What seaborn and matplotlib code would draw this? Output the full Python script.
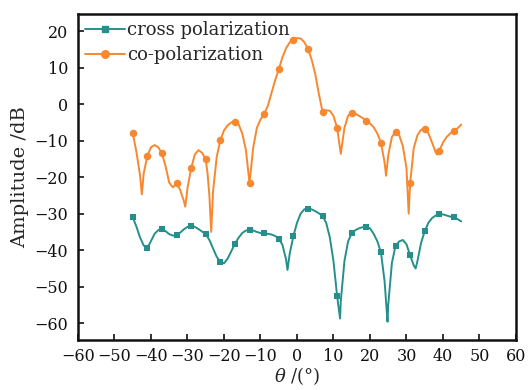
import numpy as np
import pandas as pd
import matplotlib
matplotlib.use("Agg")
import matplotlib.pyplot as plt
from matplotlib.lines import Line2D
import seaborn as sns

# Co-polarization pattern (deg, dB)
co_theta = [-45, -44, -43, -42.5, -42, -41, -40, -39, -38, -37, -36, -35, -34, -33,
            -32, -31, -30.6, -30, -29, -28, -27, -26, -25, -24.5, -24, -23.5, -23,
            -22, -21, -20, -19, -18, -17, -16, -15, -14, -13, -12, -11, -10, -9, -8,
            -7, -6, -5, -4, -3, -2, -1, 0, 1, 2, 3, 4, 5, 6, 7, 8, 9, 10, 11, 12,
            13, 14, 15, 16, 17, 18, 19, 20, 21, 22, 23, 24, 24.4, 25, 26, 27, 28,
            29, 30, 30.6, 31, 32, 33, 34, 35, 36, 37, 38, 38.4, 39, 40, 41, 42, 43,
            44, 45]
co_amp = [-7.9, -13.0, -19.5, -24.7, -19.0, -14.2, -11.8, -11.2, -11.8, -13.5, -17.0,
          -21.5, -22.8, -21.7, -23.5, -26.5, -28.1, -23.0, -17.6, -13.8, -12.6, -13.3,
          -15.1, -19.0, -25.0, -35.0, -24.0, -14.5, -9.9, -7.2, -5.8, -5.0, -4.8, -5.5,
          -8.0, -12.5, -21.6, -12.0, -6.5, -4.2, -2.7, -0.5, 3.0, 6.5, 9.5, 12.8, 15.3,
          16.9, 17.7, 18.1, 18.0, 17.0, 15.1, 12.3, 8.3, 2.8, -2.1, -1.7, -1.8, -3.2,
          -6.5, -13.6, -6.5, -3.2, -2.3, -2.6, -3.2, -3.8, -4.5, -5.3, -6.3, -8.0,
          -10.5, -16.0, -19.6, -14.0, -9.0, -7.5, -8.5, -11.5, -17.5, -30.0, -21.6,
          -12.0, -8.5, -7.0, -6.7, -8.0, -10.5, -13.2, -13.8, -12.8, -10.5, -9.0,
          -8.0, -7.3, -6.6, -5.6]

# Cross-polarization pattern (deg, dB)
cross_theta = [-45, -44, -43, -42, -41, -40, -39, -38, -37, -36, -35, -34, -33, -32,
               -31, -30, -29, -28, -27, -26, -25, -24, -23, -22, -21, -20, -19, -18,
               -17, -16, -15, -14, -13, -12, -11, -10, -9, -8, -7, -6, -5, -4, -3,
               -2.6, -2, -1, 0, 1, 2, 3, 4, 5, 6, 7, 8, 9, 10, 11, 11.8, 12, 13, 14,
               15, 16, 17, 18, 19, 20, 21, 22, 23, 24, 24.8, 25, 26, 27, 28, 29, 30,
               31, 32, 32.5, 33, 34, 35, 36, 37, 38, 39, 40, 41, 42, 43, 44, 45]
cross_amp = [-31.0, -33.5, -36.5, -38.7, -39.4, -37.5, -35.5, -34.5, -34.3, -34.8,
             -35.6, -36.0, -35.9, -35.2, -34.3, -33.6, -33.4, -33.6, -34.2, -34.9,
             -35.6, -37.2, -39.5, -41.8, -43.2, -43.6, -42.3, -40.3, -38.2, -36.6,
             -35.3, -34.6, -34.5, -34.6, -35.0, -35.3, -35.4, -35.5, -35.7, -36.1,
             -36.8, -38.5, -42.5, -45.4, -41.0, -36.2, -32.5, -30.0, -28.8, -28.6,
             -28.8, -29.3, -29.9, -30.6, -32.5, -36.5, -43.0, -52.6, -58.7, -54.0,
             -43.0, -37.6, -35.3, -34.5, -34.0, -33.7, -33.6, -34.0, -35.5, -37.5,
             -40.6, -48.5, -59.6, -55.0, -43.5, -38.8, -37.6, -37.2, -38.4, -41.4,
             -44.2, -45.0, -43.0, -38.0, -34.8, -32.5, -31.2, -30.5, -30.1, -30.2,
             -30.5, -30.8, -31.0, -31.5, -32.1]

# Angles carrying a marker symbol
marker_theta = [-45, -41, -37, -33, -29, -25, -21, -17, -13, -9, -5, -1,
                3, 7, 11, 15, 19, 23, 27, 31, 35, 39, 43]

x_ticks = [-60, -50, -40, -30, -20, -10, 0, 10, 20, 30, 40, 50, 60]
y_ticks = [-60, -50, -40, -30, -20, -10, 0, 10, 20]

series_names = ["cross polarization", "co-polarization"]
cross_color = "#25908b"
co_color = "#f7882f"

sns.set_theme(style="white")
plt.rcParams["font.family"] = ["DejaVu Serif"]
plt.rcParams["mathtext.fontset"] = "dejavuserif"

fig = plt.figure(figsize=(5.29, 3.90), dpi=100)
ax = fig.add_axes([0.1474, 0.1282, 0.8280, 0.8359])

cross_df = pd.DataFrame({"theta": cross_theta, "amp": cross_amp})
co_df = pd.DataFrame({"theta": co_theta, "amp": co_amp})

styles = [(cross_df, cross_color, "s", 4.6), (co_df, co_color, "o", 5.4)]
for df, color, mk, ms in styles:
    sns.lineplot(data=df, x="theta", y="amp", ax=ax, color=color, lw=1.4,
                 estimator=None, sort=False, legend=False)
    pts = df[df["theta"].isin(marker_theta)]
    sns.scatterplot(data=pts, x="theta", y="amp", ax=ax, color=color, marker=mk,
                    s=ms ** 2, edgecolor=color, linewidth=0, legend=False, zorder=3)

ax.set_xlim(-60, 60)
ax.set_ylim(-64.6, 24.7)
ax.set_xticks(x_ticks)
ax.set_yticks(y_ticks)
ax.set_xticklabels([f"{t}".replace("-", "\u2212") for t in x_ticks])
ax.set_yticklabels([f"{t}".replace("-", "\u2212") for t in y_ticks])
ax.tick_params(axis="both", direction="in", length=4, width=1.2, labelsize=11.5,
               colors="#111111", bottom=True, left=True, top=False, right=False)
ax.tick_params(axis="x", pad=6)
ax.tick_params(axis="y", pad=7)
for sp in ax.spines.values():
    sp.set_color("#111111")
    sp.set_linewidth(1.8)

ax.set_xlabel(r"$\theta$ /(°)", fontsize=13, labelpad=0)
ax.set_ylabel("Amplitude /dB", fontsize=14, labelpad=4)

handles = [
    Line2D([], [], color=cross_color, lw=1.4, marker="s", markersize=4.6),
    Line2D([], [], color=co_color, lw=1.4, marker="o", markersize=5.4),
]
ax.legend(handles, series_names, loc="upper left", bbox_to_anchor=(0.0, 1.0),
          frameon=False, fontsize=13, handlelength=2.2, handletextpad=0.1,
          labelspacing=0.4, borderaxespad=0.15, borderpad=0.25)

fig.savefig("out.png", dpi=100)
